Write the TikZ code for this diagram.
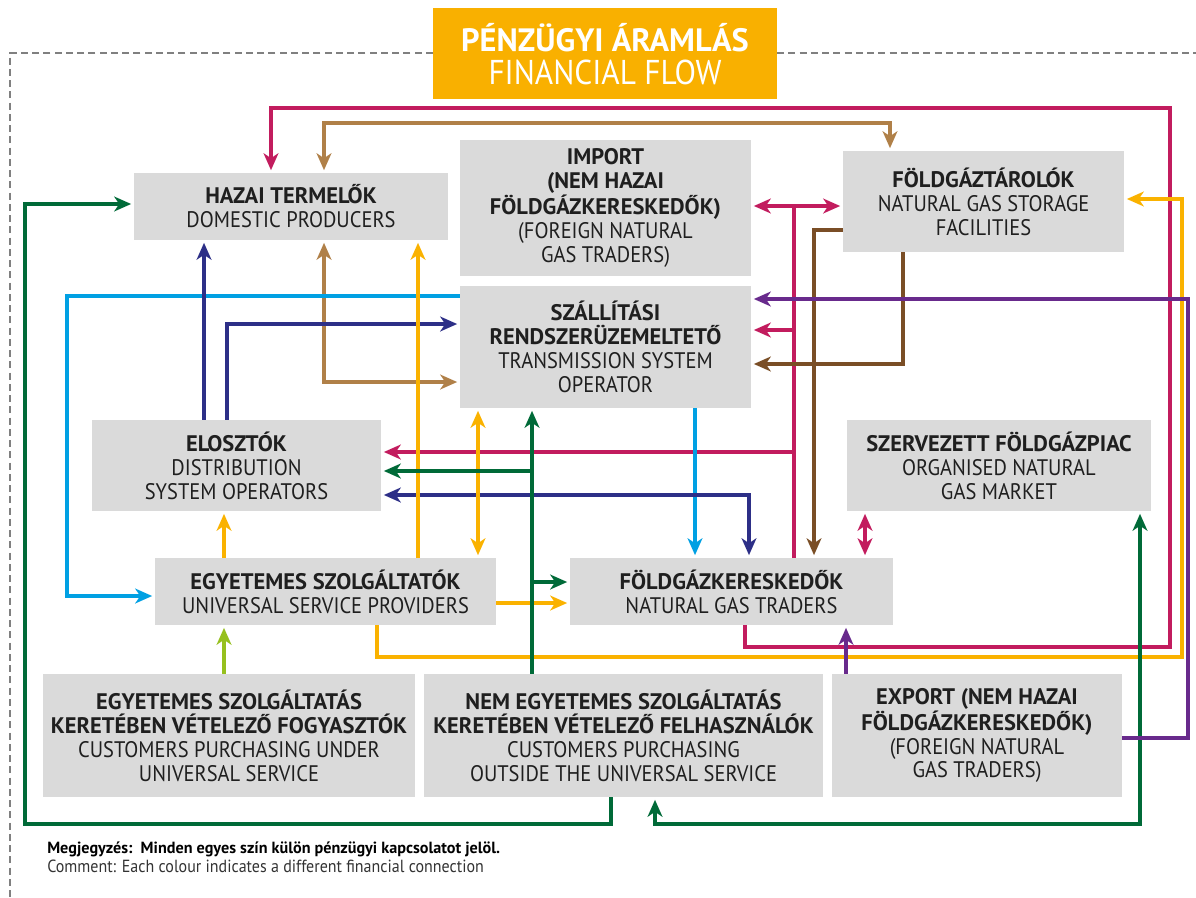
\documentclass[tikz,border=0pt]{standalone}
\usepackage{fontspec}
\setmainfont{PT Sans}[UprightFeatures={FakeStretch=0.91}, BoldFeatures={FakeStretch=1.0}]
\usetikzlibrary{arrows.meta}
\definecolor{boxgray}{RGB}{218,218,218}
\definecolor{titleor}{RGB}{249,176,0}
\definecolor{cmag}{RGB}{194,28,94}
\definecolor{ctan}{RGB}{176,128,72}
\definecolor{cbrn}{RGB}{122,78,38}
\definecolor{ccya}{RGB}{0,160,227}
\definecolor{cnav}{RGB}{45,47,135}
\definecolor{cyel}{RGB}{250,178,0}
\definecolor{cgrn}{RGB}{0,106,56}
\definecolor{cpur}{RGB}{104,42,140}
\definecolor{clim}{RGB}{150,192,30}
\tikzset{
  box/.style={fill=boxgray, inner sep=0pt, outer sep=0pt, align=center, text=black!88, font=\fontsize{16}{17}\selectfont},
  flow/.style={line width=2.6pt},
  arr/.style={flow, -{Stealth[length=12pt,width=10.5pt,inset=3.5pt]}, shorten >=2pt},
  darr/.style={flow, {Stealth[length=12pt,width=10.5pt,inset=3.5pt]}-{Stealth[length=12pt,width=10.5pt,inset=3.5pt]}, shorten >=2pt, shorten <=2pt},
}
\begin{document}
\begin{tikzpicture}[x=0.025cm, y=-0.025cm]
\useasboundingbox (0,0) rectangle (1196,897);
\node [fill=titleor, inner sep=0pt, outer sep=0pt, minimum width=8.6cm, minimum height=2.275cm, align=center, text=white, font=\fontsize{23}{23.5}\selectfont] (title) at (605,53.5) {\rule{0pt}{21pt}\textbf{PÉNZÜGYI ÁRAMLÁS}\\{\fontsize{24.5}{23.5}\selectfont FINANCIAL FLOW}};
\draw [gray, line width=1pt, dash pattern=on 5pt off 3pt] (title.west |- 0,53) -- (10,53) -- (10,897);
\draw [gray, line width=1pt, dash pattern=on 5pt off 3pt] (title.east |- 0,53) -- (1196,53);
\node [box, minimum width=7.85cm, minimum height=1.675cm] (hazai) at (291,206.5) {\textbf{HAZAI TERMELŐK}\\DOMESTIC PRODUCERS};
\node [box, minimum width=7.275cm, minimum height=3.4cm] (import) at (605.5,208) {\textbf{IMPORT}\\\textbf{(NEM HAZAI}\\\textbf{FÖLDGÁZKERESKEDŐK)}\\(FOREIGN NATURAL\\GAS TRADERS)};
\node [box, minimum width=7.025cm, minimum height=2.525cm] (tarolo) at (983.5,201.5) {\textbf{FÖLDGÁZTÁROLÓK}\\NATURAL GAS STORAGE\\FACILITIES};
\node [box, minimum width=7.275cm, minimum height=3.05cm] (tso) at (605.5,347) {\textbf{SZÁLLÍTÁSI}\\\textbf{RENDSZERÜZEMELTETŐ}\\TRANSMISSION SYSTEM\\OPERATOR};
\node [box, minimum width=7.225cm, minimum height=2.275cm] (eloszto) at (236.5,465.5) {\textbf{ELOSZTÓK}\\DISTRIBUTION\\SYSTEM OPERATORS};
\node [box, minimum width=7.6cm, minimum height=2.275cm] (piac) at (999,465.5) {\textbf{SZERVEZETT FÖLDGÁZPIAC}\\ORGANISED NATURAL\\GAS MARKET};
\node [box, minimum width=8.525cm, minimum height=1.675cm] (egyszolg) at (325.5,591.5) {\textbf{EGYETEMES SZOLGÁLTATÓK}\\UNIVERSAL SERVICE PROVIDERS};
\node [box, minimum width=8.075cm, minimum height=1.675cm] (keresk) at (731.5,591.5) {\textbf{FÖLDGÁZKERESKEDŐK}\\NATURAL GAS TRADERS};
\node [box, minimum width=9.3cm, minimum height=3.075cm] (fogy) at (229,735.5) {\textbf{EGYETEMES SZOLGÁLTATÁS}\\\textbf{KERETÉBEN VÉTELEZŐ FOGYASZTÓK}\\CUSTOMERS PURCHASING UNDER\\UNIVERSAL SERVICE};
\node [box, minimum width=9.975cm, minimum height=3.075cm] (felh) at (623.5,735.5) {\textbf{NEM EGYETEMES SZOLGÁLTATÁS}\\\textbf{KERETÉBEN VÉTELEZŐ FELHASZNÁLÓK}\\CUSTOMERS PURCHASING\\OUTSIDE THE UNIVERSAL SERVICE};
\node [box, minimum width=7.25cm, minimum height=3.075cm] (export) at (977,735.5) {\textbf{EXPORT (NEM HAZAI}\\\textbf{FÖLDGÁZKERESKEDŐK)}\\(FOREIGN NATURAL\\GAS TRADERS)};
\coordinate (mj1) at (794,206);
\coordinate (mj2) at (794,330);
\coordinate (mj3) at (794,452);
\coordinate (gj1) at (532,471);
\coordinate (gj2) at (532,582);
\draw [cmag, arr] (keresk.south -| 745,0) |- (1170,647) |- (271,108) -- (hazai.north -| 271,0);
\draw [cmag, flow] (keresk.north -| mj1) -- (mj1);
\draw [cmag, darr] (import.east |- mj1) -- (tarolo.west |- mj1);
\draw [cmag, arr] (mj2) -- (tso.east |- mj2);
\draw [cmag, arr] (mj3) -- (eloszto.east |- mj3);
\draw [cmag, darr] (piac.south -| 865,0) -- (keresk.north -| 865,0);
\draw [ctan, darr] (hazai.north -| 324,0) -- (324,123) -| (tarolo.north -| 890,0);
\draw [ctan, darr] (hazai.south -| 324,0) |- (tso.west |- 0,382);
\draw [cbrn, arr] (tarolo.west |- 0,230) -| (keresk.north -| 814,0);
\draw [cbrn, arr] (tarolo.south -| 903,0) |- (tso.east |- 0,364);
\draw [ccya, arr] (tso.west |- 0,296) -| (67,596) -- (egyszolg.west |- 0,596);
\draw [ccya, arr] (tso.south -| 695,0) -- (keresk.north -| 695,0);
\draw [cnav, arr] (eloszto.north -| 204,0) -- (hazai.south -| 204,0);
\draw [cnav, arr] (eloszto.north -| 227,0) |- (tso.west |- 0,324);
\draw [cnav, darr] (eloszto.east |- 0,495) -| (keresk.north -| 749,0);
\draw [cyel, arr] (egyszolg.north -| 224,0) -- (eloszto.south -| 224,0);
\draw [cyel, arr] (egyszolg.north -| 418,0) -- (hazai.south -| 418,0);
\draw [cyel, darr] (tso.south -| 478,0) -- (egyszolg.north -| 478,0);
\draw [cyel, arr] (egyszolg.east |- 0,603) -- (keresk.west |- 0,603);
\draw [cyel, arr] (egyszolg.south -| 377,0) |- (1182,657) |- (tarolo.east |- 0,199);
\draw [cgrn, arr] (felh.north -| gj1) -- (tso.south -| gj1);
\draw [cgrn, arr] (gj1) -- (eloszto.east |- gj1);
\draw [cgrn, arr] (gj2) -- (keresk.west |- gj2);
\draw [cgrn, arr] (felh.south -| 611,0) |- (25,824) |- (hazai.west |- 0,204);
\draw [cgrn, darr] (piac.south -| 1140,0) |- (655,824) -- (felh.south -| 655,0);
\draw [cpur, arr] (export.east |- 0,738) -| (1188,299) -- (tso.east |- 0,299);
\draw [cpur, arr] (export.north -| 846,0) -- (keresk.south -| 846,0);
\draw [clim, arr] (fogy.north -| 224,0) -- (egyszolg.south -| 224,0);
\node [anchor=base west, inner sep=0pt, font=\fontsize{11.5}{12}\selectfont] (megj) at (47,853) {\textbf{Megjegyzés:\ \ Minden egyes szín külön pénzügyi kapcsolatot jelöl.}};
\node [anchor=base west, inner sep=0pt, font=\fontsize{12.5}{12}\selectfont, text=black!80] (comm) at (47,872) {Comment: Each colour indicates a different financial connection};
\end{tikzpicture}
\end{document}
